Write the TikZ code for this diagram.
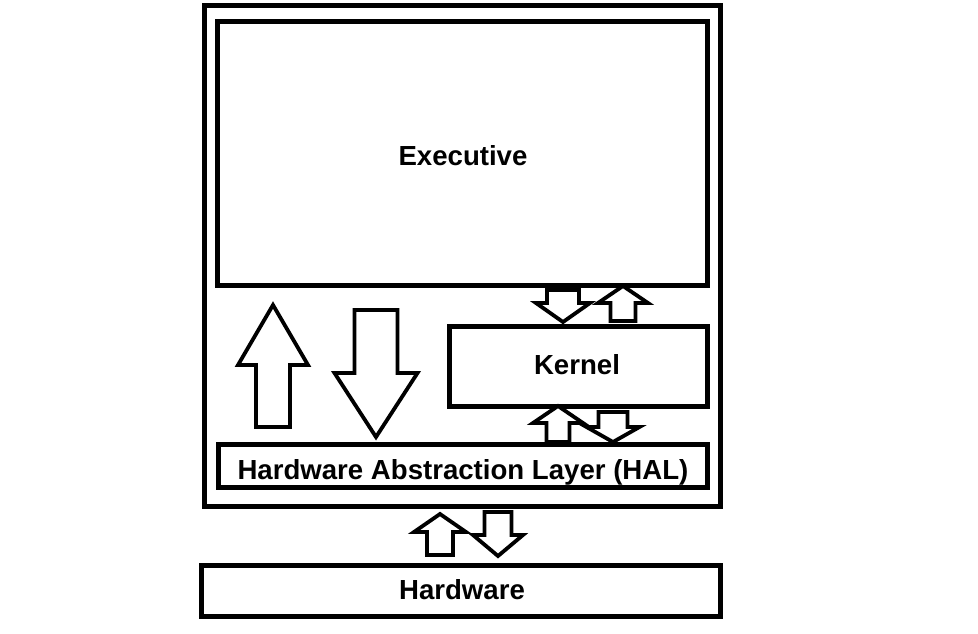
\documentclass[tikz,border=0pt]{standalone}
\usepackage{fontspec}
\setmainfont{Liberation Sans}
\newcommand\blkarrow[6]{% cx, tip y, head base y, tail y, half head, half shaft
  \draw[blkarr] (#1,#2) -- (#1+#5,#3) -- (#1+#6,#3) -- (#1+#6,#4) -- (#1-#6,#4) -- (#1-#6,#3) -- (#1-#5,#3) -- cycle;}
\begin{document}
\begin{tikzpicture}[x=1pt,y=-1pt,
  box/.style={draw=black,line width=5pt,fill=white,rectangle,inner sep=0pt,outer sep=0pt,anchor=north west},
  lbl/.style={font=\fontsize{27.6}{32}\selectfont\bfseries,anchor=base,inner sep=0pt},
  blkarr/.style={draw=black,line width=3.8pt,fill=white,line join=miter}]
\useasboundingbox (0,0) rectangle (978,633);
\fill[white] (0,0) rectangle (978,633);
\node[box,minimum width=515.5pt,minimum height=500.5pt] (outer) at (204.5,5.5) {};
\node[box,minimum width=490pt,minimum height=263.5pt] (exec) at (217.5,21.5) {};
\node[box,minimum width=258pt,minimum height=80pt] (kernel) at (449.5,326.5) {};
\node[box,minimum width=489.5pt,minimum height=43.5pt] (hal) at (218,444) {};
\node[box,minimum width=519pt,minimum height=50.5pt] (hw) at (201,565.5) {};
\node[lbl] (execl) at (463,165) {Executive};
\node[lbl] (kernl) at (577,374.5) {Kernel};
\node[lbl] (hall) at (463,479.5) {Hardware Abstraction Layer (HAL)};
\node[lbl] (hwl) at (462,599.5) {Hardware};
% big arrows
\blkarrow{273}{305}{365}{427}{35}{17}
\blkarrow{376}{437}{373}{310}{41.5}{21.5}
% executive - kernel
\blkarrow{563}{322}{303}{290}{27}{16}
\blkarrow{623}{286}{303}{321}{25}{12.5}
% kernel - HAL
\blkarrow{558}{406}{423}{442}{25}{11.5}
\blkarrow{613}{442}{427}{412}{26.5}{14.5}
% HAL - hardware
\blkarrow{440}{514}{532}{555}{26}{13}
\blkarrow{498}{556}{535}{512}{25}{13.5}
\end{tikzpicture}
\end{document}
